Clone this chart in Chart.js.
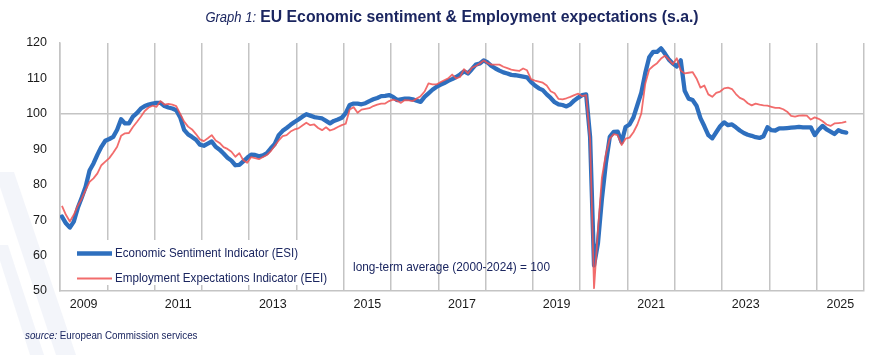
<!DOCTYPE html>
<html><head><meta charset="utf-8">
<script src="https://cdn.jsdelivr.net/npm/chart.js@4.4.1/dist/chart.umd.min.js"></script>
<style>
html,body{margin:0;padding:0;background:#fff;}
#wrap{position:relative;width:885px;height:355px;overflow:hidden;background:#fff;}
#c{position:absolute;left:0;top:0;}
#title{position:absolute;top:7px;left:452px;white-space:nowrap;color:#1b2660;font-family:"Liberation Sans",Arial,sans-serif;transform:translateX(-50%) scaleX(0.93);transform-origin:center;}
#title .g{font-style:italic;font-size:14px;}
#title .t{font-weight:bold;font-size:17px;}
#source{position:absolute;top:329px;left:25px;white-space:nowrap;color:#1b2660;font-family:"Liberation Sans",Arial,sans-serif;font-size:11px;transform:scaleX(0.89);transform-origin:left;}
#source i{font-style:italic;}
</style></head>
<body>
<div id="wrap">
<canvas id="c" width="885" height="355"></canvas>
<div id="title"><span class="g">Graph 1:</span> <span class="t">EU Economic sentiment &amp; Employment expectations (s.a.)</span></div>
<div id="source"><i>source:</i> European Commission services</div>
</div>
<script>
// Monthly data, January 2009 onward
const startYear = 2009;
const esiLabel = "Economic Sentiment Indicator (ESI)";
const eeiLabel = "Employment Expectations Indicator (EEI)";
const noteText = "long-term average (2000-2024) = 100";
const esi = [
71.0,69.1,67.9,69.6,73.4,76.3,79.4,84.0,86.0,88.5,
90.7,92.4,92.9,93.5,95.5,98.5,97.3,97.3,99.2,100.2,
101.5,102.2,102.6,102.9,103.1,103.1,102.2,101.8,101.5,101.0,
99.0,95.5,94.2,93.5,92.7,91.3,91.0,91.6,92.2,90.7,
89.9,88.8,87.6,86.8,85.5,85.6,86.6,87.6,88.5,88.4,
88.0,88.3,88.9,90.3,91.5,94.0,95.2,96.0,96.9,97.7,
98.4,99.2,99.9,99.5,99.1,98.9,98.7,98.0,97.3,98.0,
98.4,98.9,100.2,102.5,102.9,102.9,102.7,103.0,103.6,104.1,
104.5,105.0,105.1,105.3,104.8,103.9,104.1,104.3,104.3,104.1,
103.7,103.4,104.8,105.8,106.8,107.6,108.2,108.7,109.3,109.8,
110.4,111.1,112.0,111.4,112.6,113.9,114.2,115.1,114.5,113.5,
112.8,112.2,111.7,111.4,111.0,110.9,110.7,110.5,110.3,109.0,
108.0,107.2,106.7,105.5,104.5,103.3,102.7,102.5,102.1,102.7,
103.8,104.6,105.3,105.5,93.5,57.2,63.5,76.0,86.0,93.5,
94.9,95.0,92.0,96.3,97.0,99.0,102.5,106.0,111.5,116.0,
117.5,117.5,118.5,117.0,115.3,114.2,113.4,115.1,106.5,104.3,
103.9,102.3,98.8,96.5,94.0,93.1,94.8,96.5,97.6,96.8,
97.0,96.2,95.3,94.6,94.1,93.8,93.4,93.2,93.7,96.2,
95.4,95.3,95.9,95.9,96.0,96.1,96.2,96.3,96.2,96.2,
96.2,94.0,95.5,96.6,95.6,95.0,94.3,95.4,94.9,94.7
];
const eei = [
74.0,71.5,69.6,71.5,74.0,76.0,78.5,80.8,81.8,83.2,
85.5,86.5,87.5,89.0,90.7,93.8,94.5,94.6,96.3,97.7,
99.2,100.8,101.8,102.3,102.0,103.6,102.6,102.8,102.6,102.2,
100.0,97.8,96.4,95.6,94.3,92.8,92.3,93.1,94.0,92.5,
91.8,90.6,90.1,89.3,87.9,88.9,86.9,86.2,87.8,87.5,
87.2,87.8,88.4,89.5,91.0,92.5,93.7,94.0,95.0,95.6,
95.9,96.7,97.5,96.8,97.0,96.0,95.4,96.2,95.3,95.7,
96.3,96.8,97.2,101.2,101.9,100.3,101.2,101.4,101.6,102.2,
102.6,102.9,102.9,103.6,104.0,103.7,103.1,103.9,103.8,103.6,
104.3,105.0,106.3,108.6,108.3,108.3,108.9,109.5,110.0,111.1,
110.0,110.4,112.6,111.4,113.0,113.5,114.2,115.1,114.3,113.9,
113.9,113.9,113.3,112.9,112.5,112.3,112.1,112.8,112.3,109.8,
109.4,109.1,108.8,108.0,106.4,105.8,104.2,104.1,104.4,104.8,
105.3,105.7,105.0,105.3,92.6,50.8,67.2,82.0,88.6,93.0,
94.3,94.0,91.2,93.0,93.3,94.8,97.0,100.1,108.5,112.5,
113.5,114.3,115.6,116.4,115.3,114.0,115.7,112.2,111.4,111.6,
111.8,110.0,107.4,108.0,105.5,104.8,105.9,106.3,107.2,107.4,
107.0,105.6,104.5,104.0,103.0,102.4,102.9,102.6,102.4,102.3,
102.0,101.7,101.7,101.3,100.6,99.4,99.2,99.5,99.6,99.5,
98.4,99.0,98.6,97.9,97.0,96.6,97.3,97.4,97.5,97.8
];
const yearLabels = [2009,2011,2013,2015,2017,2019,2021,2023,2025];
const yTicks = [50,60,70,80,90,100,110,120];
const axisYears = 17; // Jan 2009 .. Jan 2026

const blue = '#2e6fbe';
const red = 'rgba(240,82,82,0.85)';
const gridCol = '#c4c4c4';
const navy = '#1b2660';
const FONT = '"Liberation Sans", Arial, sans-serif';

const toPts = arr => arr.map((v,i)=>({x:i+0.5,y:v}));

const bgPlugin = {
  id:'bg',
  beforeDraw(chart){
    const ctx = chart.ctx;
    ctx.save();
    ctx.fillStyle='#fff';
    ctx.fillRect(0,0,chart.width,chart.height);
    ctx.fillStyle='rgba(222,226,242,0.35)';
    ctx.beginPath();
    ctx.moveTo(-5,172); ctx.lineTo(14,172); ctx.lineTo(76,355); ctx.lineTo(56,355); ctx.closePath(); ctx.fill();
    ctx.beginPath();
    ctx.moveTo(-5,245); ctx.lineTo(8,245); ctx.lineTo(44,355); ctx.lineTo(30,355); ctx.closePath(); ctx.fill();
    ctx.restore();
  }
};

function narrowText(ctx, text, x, y, size, targetW, weight){
  ctx.save();
  ctx.font = (weight||'') + ' ' + size + 'px ' + FONT;
  const w = ctx.measureText(text).width;
  const s = targetW ? targetW / w : 0.82;
  ctx.translate(x, y);
  ctx.scale(s, 1);
  ctx.fillText(text, 0, 0);
  ctx.restore();
}

const legendPlugin = {
  id:'legendBox',
  afterDraw(chart){
    const ctx = chart.ctx;
    const xs = chart.scales.x;
    ctx.save();
    ctx.fillStyle='#fff';
    const left = xs.left + 1;
    ctx.fillRect(left, 240, 272, 45);
    ctx.lineCap='butt';
    const ds = chart.data.datasets;
    const rows = [{d:ds[1], y:253.5, w:183},{d:ds[0], y:278.5, w:212}];
    rows.forEach(r=>{
      ctx.strokeStyle = r.d.borderColor;
      ctx.lineWidth = r.d.borderWidth;
      ctx.beginPath(); ctx.moveTo(77, r.y); ctx.lineTo(112, r.y); ctx.stroke();
      ctx.fillStyle = navy;
      ctx.textBaseline='middle';
      narrowText(ctx, r.d.label, 115, r.y, 13.5, r.w, '');
    });
    ctx.fillStyle = navy;
    ctx.textBaseline='middle';
    narrowText(ctx, noteText, 353, 267, 13.5, 197, '');
    ctx.restore();
  }
};

new Chart(document.getElementById('c'), {
  type:'line',
  data:{
    datasets:[
      {label:eeiLabel, data:toPts(eei), borderColor:red, borderWidth:1.8, pointRadius:0, tension:0, order:0, borderJoinStyle:'round'},
      {label:esiLabel, data:toPts(esi), borderColor:blue, borderWidth:4.3, pointRadius:0, tension:0, order:1, borderJoinStyle:'round', borderCapStyle:'round'}
    ]
  },
  options:{
    responsive:false,
    animation:false,
    events:[],
    layout:{padding:{top:43,right:21,left:0,bottom:0}},
    plugins:{legend:{display:false},title:{display:false},tooltip:{enabled:false}},
    scales:{
      x:{
        type:'linear', min:0, max:axisYears*12,
        afterBuildTicks(scale){
          const t=[]; for(let v=0; v<=axisYears*12; v+=6) t.push({value:v});
          scale.ticks=t;
        },
        afterFit(scale){ scale.height = 64; },
        grid:{
          color:c => (c.tick && c.tick.value % 12 === 0) ? gridCol : 'rgba(0,0,0,0)',
          lineWidth:1.5, drawTicks:false
        },
        border:{display:true, color:gridCol, width:1.5},
        ticks:{
          autoSkip:false, maxRotation:0, padding:6, color:'#1a1a1a',
          font:{family:FONT, size:12.5},
          callback(v){
            if (v % 12 !== 6) return '';
            const yr = startYear + Math.floor(v/12);
            return yearLabels.includes(yr) ? String(yr) : '';
          }
        }
      },
      y:{
        min:50, max:120,
        afterBuildTicks(scale){ scale.ticks = yTicks.map(v=>({value:v})); },
        afterFit(scale){ scale.width = 60; },
        grid:{
          color:c => (c.tick && c.tick.value === 100) ? gridCol : 'rgba(0,0,0,0)',
          lineWidth:1.5, drawTicks:false
        },
        border:{display:true, color:gridCol, width:1.5},
        ticks:{padding:13, color:'#1a1a1a', font:{family:FONT, size:12.5}}
      }
    }
  },
  plugins:[bgPlugin, legendPlugin]
});
</script>
</body></html>
